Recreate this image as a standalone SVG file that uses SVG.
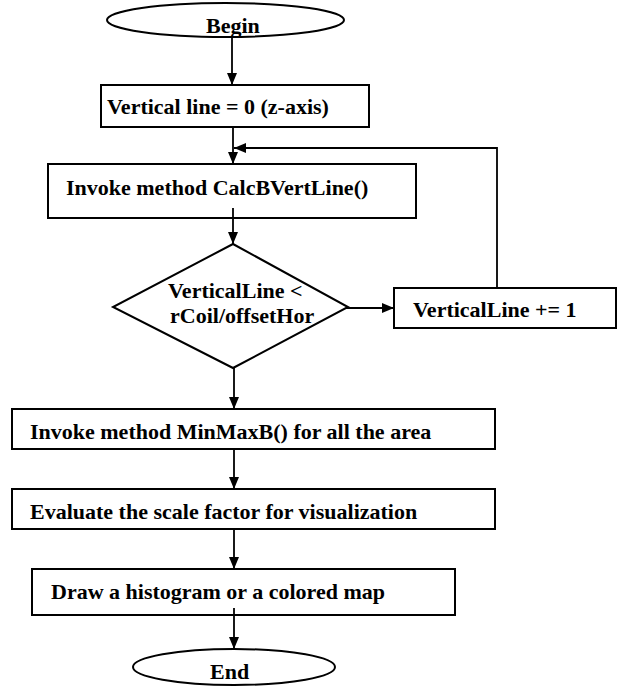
<svg xmlns="http://www.w3.org/2000/svg" width="623" height="686" viewBox="0 0 623 686">
<defs>
<style>
.shape{fill:#fff;stroke:#000;stroke-width:2}
.t{font-family:'Liberation Serif','Times New Roman',Tinos,'DejaVu Serif',serif;font-weight:bold;font-size:22px;fill:#000}
.c{fill:none;stroke:#000;stroke-width:1.8}
</style>
<marker id="ah" markerUnits="userSpaceOnUse" markerWidth="13" markerHeight="11" refX="12" refY="5" orient="auto">
<path d="M0,0 L12,5 L0,10 z" fill="#000"/>
</marker>
</defs>
<rect width="623" height="686" fill="#fff"/>
<g id="connectors">
<line class="c" x1="232" y1="37" x2="232" y2="85" marker-end="url(#ah)"/>
<line class="c" x1="233" y1="127" x2="233" y2="164" marker-end="url(#ah)"/>
<polyline class="c" points="497,288 497,148 234,148" marker-end="url(#ah)"/>
<line class="c" x1="233" y1="208" x2="233" y2="244" marker-end="url(#ah)"/>
<path class="c" d="M326,312 Q332,308 338,308 L394,308" marker-end="url(#ah)"/>
<line class="c" x1="234" y1="367" x2="234" y2="409" marker-end="url(#ah)"/>
<line class="c" x1="234" y1="449" x2="234" y2="489" marker-end="url(#ah)"/>
<line class="c" x1="234" y1="529" x2="234" y2="569" marker-end="url(#ah)"/>
<line class="c" x1="234" y1="608" x2="234" y2="649" marker-end="url(#ah)"/>
</g>
<g id="begin">
<ellipse class="shape" cx="225.5" cy="20" rx="118.5" ry="17"/>
<text class="t" x="206" y="33">Begin</text>
</g>
<g id="init">
<rect class="shape" x="101" y="85" width="268" height="42"/>
<text class="t" x="107" y="114">Vertical line = 0 (z-axis)</text>
</g>
<g id="calc">
<rect class="shape" x="48" y="164" width="368" height="54"/>
<text class="t" x="66" y="195">Invoke method CalcBVertLine()</text>
<line class="c" x1="233" y1="208" x2="233" y2="218"/>
</g>
<g id="decision">
<polygon class="shape" points="233,244 348,307 233,368 113,307"/>
<text class="t" x="168" y="298">VerticalLine &lt;</text>
<text class="t" x="170" y="323">rCoil/offsetHor</text>
</g>
<g id="increment">
<rect class="shape" x="394" y="288" width="222" height="40"/>
<text class="t" x="413" y="317">VerticalLine += 1</text>
</g>
<g id="minmax">
<rect class="shape" x="12" y="409" width="483" height="40"/>
<text class="t" x="30" y="439">Invoke method MinMaxB() for all the area</text>
</g>
<g id="scale">
<rect class="shape" x="12" y="489" width="483" height="40"/>
<text class="t" x="30" y="519">Evaluate the scale factor for visualization</text>
</g>
<g id="draw">
<rect class="shape" x="32" y="569" width="423" height="46"/>
<text class="t" x="51" y="599">Draw a histogram or a colored map</text>
<line class="c" x1="234" y1="608" x2="234" y2="615"/>
</g>
<g id="end">
<ellipse class="shape" cx="234" cy="667" rx="101" ry="18"/>
<text class="t" x="210" y="679">End</text>
</g>
</svg>
